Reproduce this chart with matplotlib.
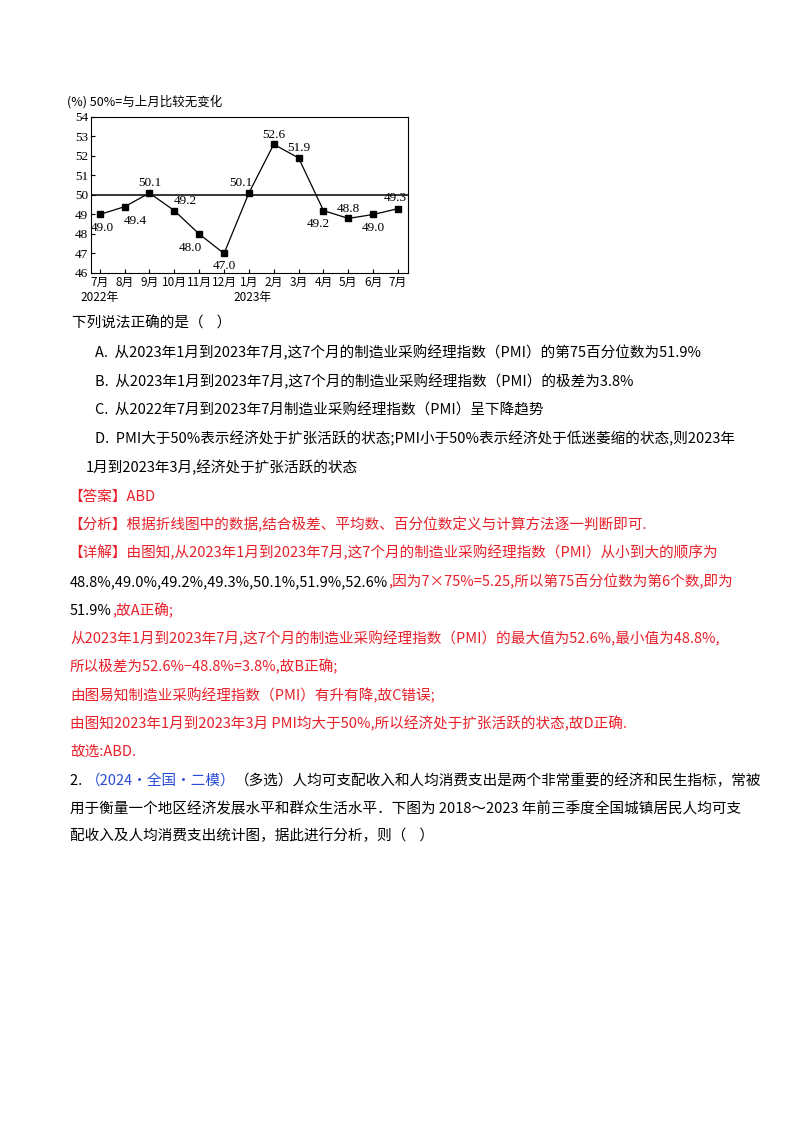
import matplotlib
matplotlib.use('Agg')
import matplotlib.pyplot as plt

plt.rcParams['font.family'] = ['Noto Sans CJK SC', 'DejaVu Sans']

# PMI data
months = ['7月', '8月', '9月', '10月', '11月', '12月', '1月', '2月', '3月', '4月', '5月', '6月', '7月']
pmi = [49.0, 49.4, 50.1, 49.2, 48.0, 47.0, 50.1, 52.6, 51.9, 49.2, 48.8, 49.0, 49.3]
label_off = [(2, -10), (8, -10), (0, 7), (8, 7), (-6, -10), (0, -9), (-6, 7), (0, 7), (0, 7), (-4, -10), (0, 7), (0, -10), (-2, 8)]

W, H = 800, 1132
fig = plt.figure(figsize=(8, 11.32), dpi=100)
ax = fig.add_axes([91 / W, 1 - 273 / H, 317 / W, 156 / H])
xs = list(range(len(pmi)))
ax.plot(xs, pmi, color='black', lw=0.9, marker='s', ms=4)
ax.axhline(50, color='black', lw=1.1)
ax.set_ylim(46, 54)
ax.set_xlim(-0.35, len(pmi) - 0.6)
ax.set_yticks(range(46, 55))
ax.set_yticklabels([str(v) for v in range(46, 55)], family=['Liberation Serif'], fontsize=9.5)
ax.set_xticks(xs)
ax.set_xticklabels(months, fontsize=8.5)
ax.tick_params(direction='in', length=3, pad=2)
for s in ax.spines.values():
    s.set_linewidth(0.8)
for x, y, (dx, dy) in zip(xs, pmi, label_off):
    ax.annotate(f'{y:.1f}', (x, y), xytext=(dx, dy), textcoords='offset points',
                ha='center', va='center', fontsize=9.5, family=['Liberation Serif'])
fig.text(91 / W - 0.03, 1 - 102 / H, '(%) 50%=与上月比较无变化', fontsize=9, va='center')
fig.text(80 / W, 1 - 297 / H, '2022年', fontsize=8.5, va='center')
fig.text(233 / W, 1 - 297 / H, '2023年', fontsize=8.5, va='center')

renderer = fig.canvas.get_renderer()
RED = '#e8202a'
BLUE = '#2a4dd6'


def line(x, y, segs, size=10.5):
    # draw text pieces one after another on one row
    px = x
    for s, c in segs:
        t = fig.text(px / W, 1 - y / H, s, color=c, fontsize=size, va='center')
        bb = t.get_window_extent(renderer)
        px = bb.x1


K = 'black'
line(72, 323, [('下列说法正确的是（    ）', K)])
line(95, 353, [('A.  从2023年1月到2023年7月,这7个月的制造业采购经理指数（PMI）的第75百分位数为51.9%', K)])
line(95, 382, [('B.  从2023年1月到2023年7月,这7个月的制造业采购经理指数（PMI）的极差为3.8%', K)])
line(95, 410, [('C.  从2022年7月到2023年7月制造业采购经理指数（PMI）呈下降趋势', K)])
line(95, 439, [('D.  PMI大于50%表示经济处于扩张活跃的状态;PMI小于50%表示经济处于低迷萎缩的状态,则2023年', K)])
line(86, 468, [('1月到2023年3月,经济处于扩张活跃的状态', K)])
line(68, 497, [('【答案】ABD', RED)])
line(68, 525, [('【分析】根据折线图中的数据,结合极差、平均数、百分位数定义与计算方法逐一判断即可.', RED)])
line(68, 553, [('【详解】由图知,从2023年1月到2023年7月,这7个月的制造业采购经理指数（PMI）从小到大的顺序为', RED)])
line(70, 582, [('48.8%,49.0%,49.2%,49.3%,50.1%,51.9%,52.6%', K), (',因为7×75%=5.25,所以第75百分位数为第6个数,即为', RED)])
line(70, 611, [('51.9%', K), (',故A正确;', RED)])
line(70, 639, [('从2023年1月到2023年7月,这7个月的制造业采购经理指数（PMI）的最大值为52.6%,最小值为48.8%,', RED)])
line(70, 667, [('所以极差为52.6%−48.8%=3.8%,故B正确;', RED)])
line(70, 696, [('由图易知制造业采购经理指数（PMI）有升有降,故C错误;', RED)])
line(70, 724, [('由图知2023年1月到2023年3月 PMI均大于50%,所以经济处于扩张活跃的状态,故D正确.', RED)])
line(70, 752, [('故选:ABD.', RED)])
line(70, 781, [('2. ', K), ('（2024·全国·二模）', BLUE), ('（多选）人均可支配收入和人均消费支出是两个非常重要的经济和民生指标，常被', K)])
line(70, 809, [('用于衡量一个地区经济发展水平和群众生活水平．下图为 2018～2023 年前三季度全国城镇居民人均可支', K)])
line(70, 836, [('配收入及人均消费支出统计图，据此进行分析，则（    ）', K)])

fig.savefig('out.png', dpi=100)
